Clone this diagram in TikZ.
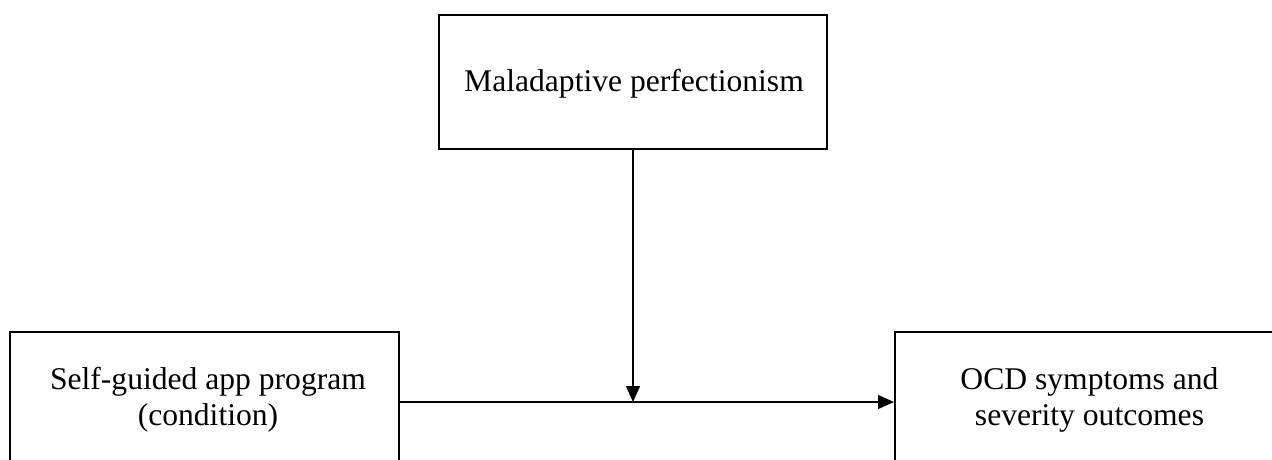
\documentclass[tikz,border=0pt]{standalone}
\usepackage{fontspec}
\setmainfont{Liberation Serif}
\usetikzlibrary{arrows.meta}
\begin{document}
\begin{tikzpicture}[x=1pt,y=-1pt,
  box/.style={draw=black,line width=2pt,fill=white,inner sep=0pt},
  lbl/.style={align=center,font=\fontsize{31.6}{36}\selectfont,inner sep=0pt},
  conn/.style={line width=1.3pt,-{Triangle[length=16pt,width=14pt]}}]
\useasboundingbox (0,0) rectangle (1272,459);
\clip (0,0) rectangle (1272,459);
\fill[white] (0,0) rectangle (1272,459);
\node[box,minimum width=388pt,minimum height=134pt] (mp) at (633,82) {};
\node[lbl] (mpt) at (634,84) {Maladaptive perfectionism};
\node[box,minimum width=389pt,minimum height=140pt] (app) at (204.5,402) {};
\node[lbl] (appt) at (208,400) {Self-guided app program\\(condition)};
\node[box,minimum width=389pt,minimum height=140pt] (ocd) at (1089.5,402) {};
\node[lbl] (ocdt) at (1089.5,400) {OCD symptoms and\\severity outcomes};
\coordinate (mid) at (mp.south |- app.east);
\draw[conn] (app.east) -- (ocd.west);
\draw[conn] (mp.south) -- (mid);
\end{tikzpicture}
\end{document}
